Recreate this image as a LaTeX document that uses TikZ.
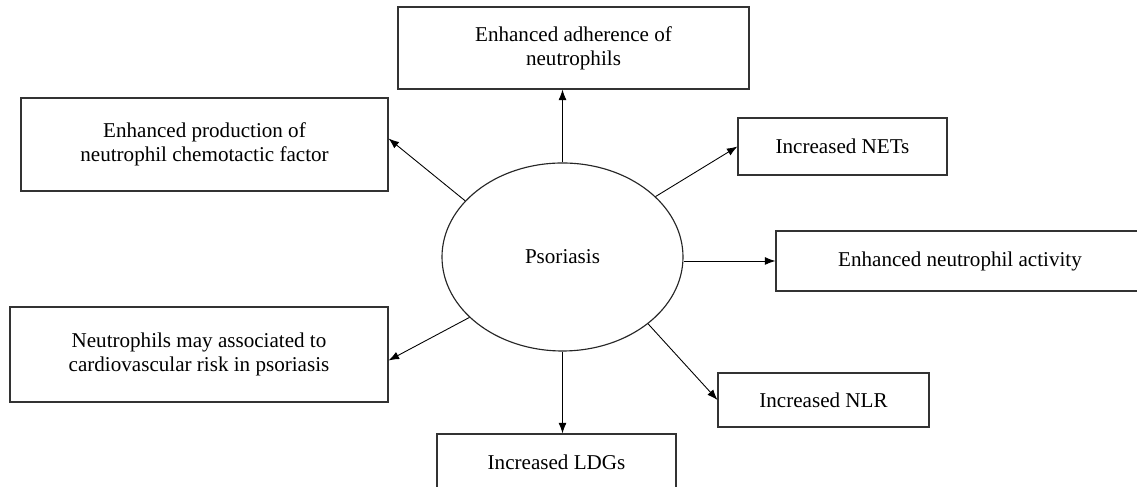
\documentclass[tikz,border=0pt]{standalone}
\usepackage{fontspec}
\setmainfont{Liberation Serif}
\usetikzlibrary{arrows.meta}
\usetikzlibrary{shapes.geometric}

\tikzset{
 effect/.style={draw=black!80, line width=.6pt, rectangle, align=center, inner sep=0, font=\fontsize{12}{13.6}\selectfont},
 link/.style={black, line width=.5pt, -{Latex[length=6pt,width=4.5pt]}}
}

\begin{document}
\begin{tikzpicture}
\useasboundingbox (0,0) rectangle (22.74,9.74);
% centre
\node[ellipse, draw=black!85, line width=.65pt, minimum width=4.82cm, minimum height=3.76cm, inner sep=0, font=\fontsize{12}{13.6}\selectfont] (psor) at (11.25,4.6) {Psoriasis};
% effects
\node[effect, minimum width=7.02cm, minimum height=1.64cm] (adh) at (11.47,8.78) {Enhanced adherence of\\neutrophils};
\node[effect, minimum width=7.34cm, minimum height=1.86cm] (prod) at (4.09,6.85) {Enhanced production of\\neutrophil chemotactic factor};
\node[effect, minimum width=4.18cm, minimum height=1.14cm] (nets) at (16.85,6.81) {Increased NETs};
\node[effect, minimum width=7.36cm, minimum height=1.2cm] (act) at (19.2,4.52) {Enhanced neutrophil activity};
\node[effect, minimum width=7.56cm, minimum height=1.9cm] (cardio) at (3.98,2.65) {Neutrophils may associated to\\cardiovascular risk in psoriasis};
\node[effect, minimum width=4.22cm, minimum height=1.08cm] (nlr) at (16.47,1.74) {Increased NLR};
\node[effect, minimum width=4.78cm, minimum height=1.12cm] (ldg) at (11.13,0.5) {Increased LDGs};
% arrows
\draw[link] (psor.north) -- (psor.north |- adh.south);
\draw[link] (psor.150) -- ([yshift=.12cm]prod.east);
\draw[link] (psor.33) -- (nets.west);
\draw[link] (psor.east |- act.west) -- (act.west);
\draw[link] (psor.213) -- ([yshift=-.12cm]cardio.east);
\draw[link] (psor.322) -- (nlr.west);
\draw[link] (psor.south) -- (psor.south |- ldg.north);
\end{tikzpicture}
\end{document}
